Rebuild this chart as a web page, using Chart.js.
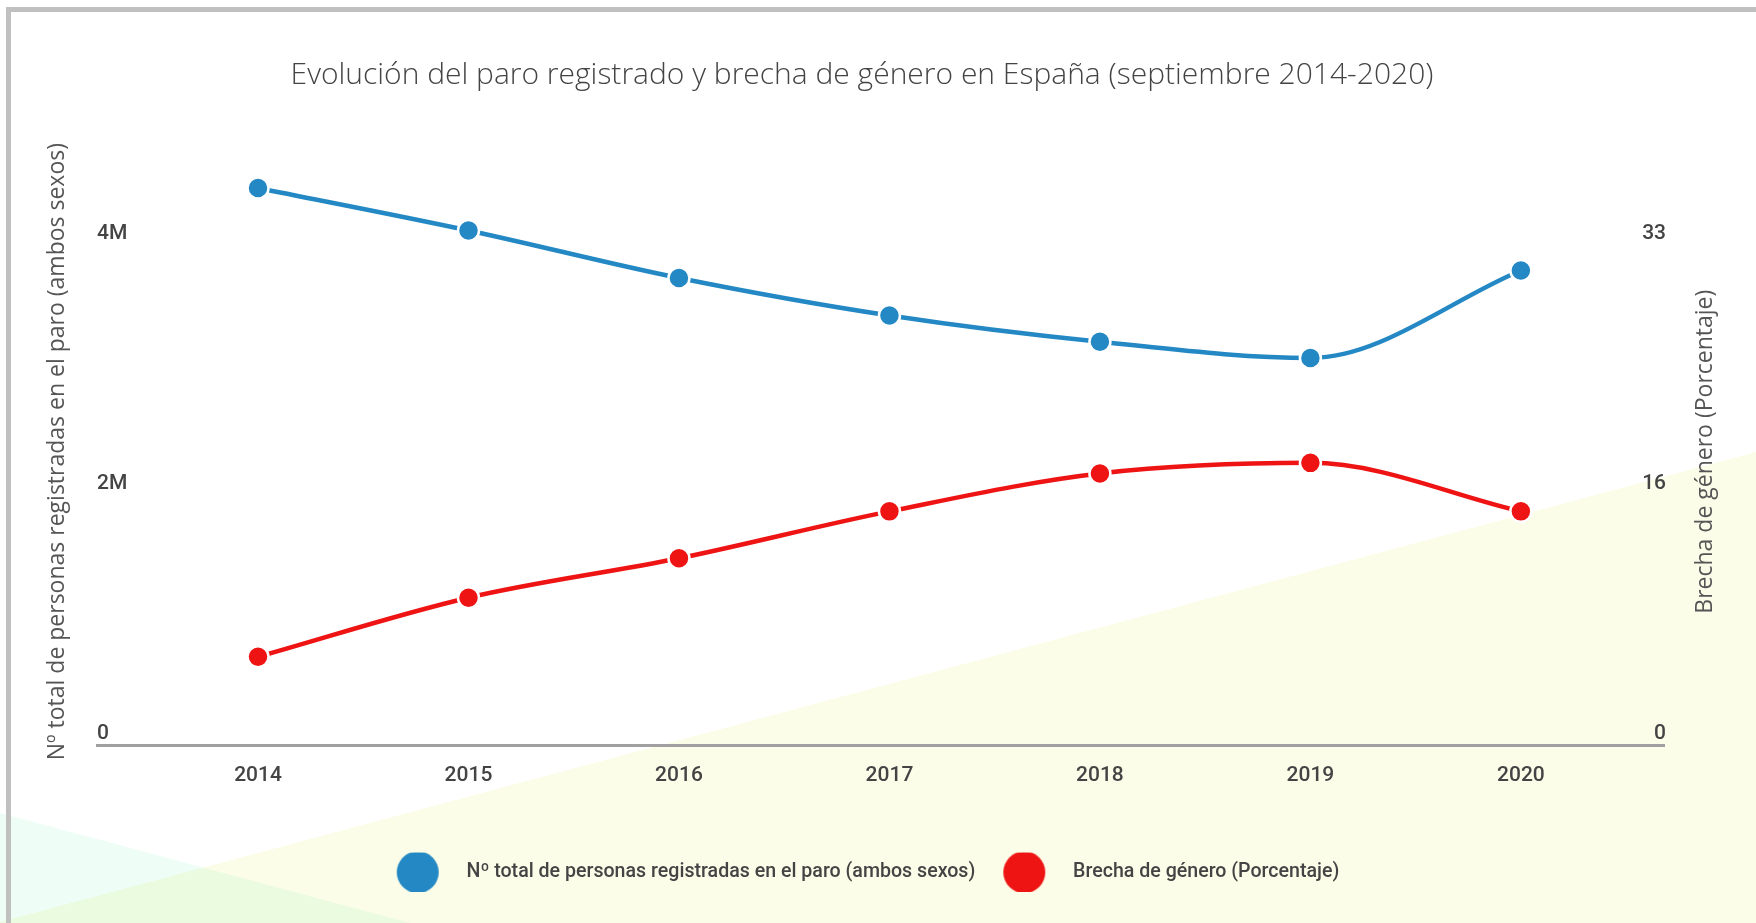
<!DOCTYPE html>
<html><head><meta charset="utf-8">
<script src="https://cdn.jsdelivr.net/npm/chart.js@4.4.1/dist/chart.umd.min.js"></script>
<style>
html,body{margin:0;padding:0;background:#fff;width:1756px;height:923px;overflow:hidden;}
#bg{position:absolute;left:0;top:0;}
#frame{position:absolute;left:6px;top:7px;width:1770px;height:940px;border-top:5px solid #c0c0c0;border-left:5px solid #c0c0c0;box-sizing:border-box;}
#wrap{position:absolute;left:0;top:0;width:1756px;height:923px;}
</style></head>
<body>
<svg id="bg" width="1756" height="923">
 <polygon points="0,922 1756,452 1756,923 0,923" fill="#fbfde8"/>
 <polygon points="0,813 410,923 0,923" fill="#eefdf6" style="mix-blend-mode:multiply"/>
</svg>
<div id="frame"></div>
<div id="wrap"><canvas id="c" width="1756" height="923"></canvas></div>
<script>
const chartTitle = 'Evolución del paro registrado y brecha de género en España (septiembre 2014-2020)';
const years = [2014, 2015, 2016, 2017, 2018, 2019, 2020];
const unemployed = [4460000, 4120000, 3740000, 3440000, 3230000, 3100000, 3800000];
const genderGap = [5.85, 9.75, 12.35, 15.45, 17.95, 18.65, 15.45];
const seriesNames = ['Nº total de personas registradas en el paro (ambos sexos)', 'Brecha de género (Porcentaje)'];
const leftAxisTitle = 'Nº total de personas registradas en el paro (ambos sexos)';
const rightAxisTitle = 'Brecha de género (Porcentaje)';
const leftTicks = [0, 2000000, 4000000];
const leftTickLabels = ['0', '2M', '4M'];
const rightTicks = [0, 16.5, 33];
const rightTickLabels = ['0', '16', '33'];
const colors = ['#2388c4', '#ef1414'];

function dot(color) {
  const c = document.createElement('canvas');
  c.width = 44; c.height = 44;
  const x = c.getContext('2d');
  x.fillStyle = color;
  x.beginPath(); x.arc(22, 22, 21, 0, Math.PI * 2); x.fill();
  return c;
}

const rightTitlePlugin = {
  id: 'rightTitle',
  afterLayout(chart) {
    if (chart.legend) { chart.legend.left -= 19; chart.legend.right -= 19; }
    if (chart.titleBlock) { chart.titleBlock.left -= 16; chart.titleBlock.right -= 16; }
  },
  afterDraw(chart) {
    const {ctx, chartArea} = chart;
    const s = chart.scales.y1;
    ctx.save();
    ctx.translate(s.right - 51, (chartArea.top + chartArea.bottom) / 2);
    ctx.rotate(-Math.PI / 2);
    ctx.font = '23px "Open Sans"';
    ctx.fillStyle = '#555';
    ctx.textAlign = 'center';
    ctx.textBaseline = 'middle';
    ctx.fillText(rightAxisTitle, 0, 0);
    ctx.restore();
  }
};

function draw() {
  const dots = colors.map(dot);
  new Chart(document.getElementById('c'), {
    type: 'line',
    data: {
      datasets: [
        {
          label: seriesNames[0],
          data: years.map((yr, i) => ({x: yr, y: unemployed[i]})),
          yAxisID: 'y',
          borderColor: colors[0], backgroundColor: colors[0],
          pointBackgroundColor: colors[0], pointBorderColor: '#fff',
          borderWidth: 4.5, pointRadius: 10.5, pointBorderWidth: 2.5,
          cubicInterpolationMode: 'monotone', clip: false
        },
        {
          label: seriesNames[1],
          data: years.map((yr, i) => ({x: yr, y: genderGap[i]})),
          yAxisID: 'y1',
          borderColor: colors[1], backgroundColor: colors[1],
          pointBackgroundColor: colors[1], pointBorderColor: '#fff',
          borderWidth: 4.5, pointRadius: 10.5, pointBorderWidth: 2.5,
          cubicInterpolationMode: 'monotone', clip: false
        }
      ]
    },
    options: {
      responsive: false,
      animation: false,
      devicePixelRatio: 1,
      layout: {padding: {top: 0, left: 0, right: 0, bottom: 31}},
      plugins: {
        title: {
          display: true, text: chartTitle, color: '#444',
          font: {family: '"Open Sans"', size: 30, weight: 300},
          padding: {top: 57, bottom: 65}
        },
        legend: {
          position: 'bottom',
          labels: {
            usePointStyle: true,
            pointStyleWidth: 78,
            padding: 10,
            color: '#444',
            font: {family: 'Roboto', size: 19.6, weight: 500},
            generateLabels(chart) {
              const items = Chart.defaults.plugins.legend.labels.generateLabels(chart);
              items.forEach((it, i) => { it.pointStyle = dots[i]; });
              return items;
            }
          }
        },
        tooltip: {enabled: false}
      },
      scales: {
        x: {
          type: 'linear', min: 2013.235, max: 2020.68,
          afterBuildTicks(s) { s.ticks = years.map(v => ({value: v})); },
          afterFit(s) { s.height = 107; },
          grid: {display: false, drawTicks: false},
          border: {display: true, color: '#a0a0a0', width: 3},
          ticks: {
            padding: 18, color: '#444',
            font: {family: 'Roboto', size: 21, weight: 500},
            callback: v => String(v)
          }
        },
        y: {
          position: 'left', min: 0, max: 4700000,
          afterBuildTicks(s) { s.ticks = leftTicks.map(v => ({value: v})); },
          afterFit(s) { s.width = 97; },
          grid: {display: false, drawTicks: false},
          border: {display: false},
          title: {display: true, text: leftAxisTitle, color: '#555',
                  font: {family: '"Open Sans"', size: 23}, padding: {top: 44, bottom: 0}},
          ticks: {
            mirror: true, padding: 0, labelOffset: -12, color: '#444',
            font: {family: 'Roboto', size: 21, weight: 500},
            callback: (v) => leftTickLabels[leftTicks.indexOf(v)]
          }
        },
        y1: {
          position: 'right', min: 0, max: 4.7 / 4 * 33,
          afterBuildTicks(s) { s.ticks = rightTicks.map(v => ({value: v})); },
          afterFit(s) { s.width = 92; },
          grid: {display: false, drawTicks: false},
          border: {display: false},
          ticks: {
            mirror: true, padding: 2, labelOffset: -12, color: '#444',
            font: {family: 'Roboto', size: 21, weight: 500},
            callback: (v) => rightTickLabels[rightTicks.indexOf(v)]
          }
        }
      }
    },
    plugins: [rightTitlePlugin]
  });
}

Promise.all([
  document.fonts.load('300 30px "Open Sans"'),
  document.fonts.load('23px "Open Sans"'),
  document.fonts.load('500 21px Roboto')
]).then(draw, draw);
</script>
</body></html>
